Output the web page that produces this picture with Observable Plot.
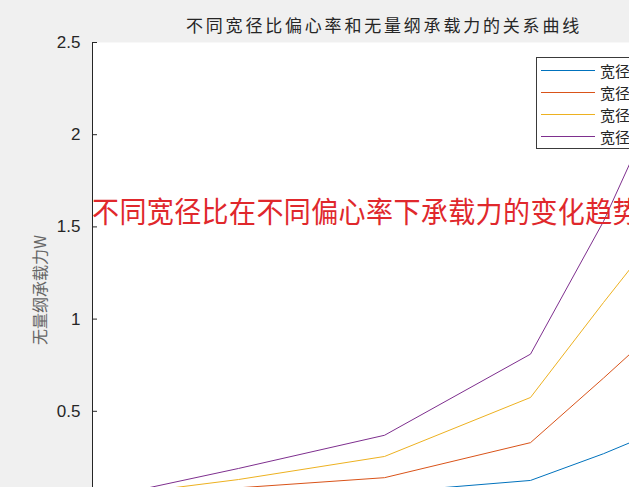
<!DOCTYPE html>
<html><head><meta charset="utf-8">
<script src="https://cdn.jsdelivr.net/npm/d3@7"></script>
<script src="https://cdn.jsdelivr.net/npm/@observablehq/plot@0.6"></script>
<style>
html,body{margin:0;padding:0;background:#f0f0f0;width:629px;height:487px;overflow:hidden;}
#wrap{position:relative;width:629px;height:487px;overflow:hidden;}
#chart{position:absolute;left:0;top:0;width:740px;height:553px;}
#chart svg{max-width:none !important;}
#title{position:absolute;left:186px;top:13px;font-family:"Noto Sans CJK SC",sans-serif;font-size:17px;letter-spacing:2.8px;color:#262626;white-space:nowrap;line-height:24px;}
#ylabel{position:absolute;left:39px;top:290px;transform:translate(-50%,-50%) rotate(-90deg);font-family:"Noto Sans CJK SC",sans-serif;font-size:16px;color:#666;white-space:nowrap;}
#legend{position:absolute;left:536px;top:57px;width:140px;height:90px;background:#fff;border:1px solid #3a3a3a;}
.lg-row{position:absolute;left:4px;height:22px;display:flex;align-items:center;white-space:nowrap;font-family:"Noto Sans CJK SC",sans-serif;font-size:15px;color:#262626;}
.lg-line{display:inline-block;width:54px;height:0;border-top:1px solid;margin-right:5px;}
#note{position:absolute;left:92px;top:191px;font-family:"Noto Sans CJK SC",sans-serif;font-size:27px;letter-spacing:0.4px;color:#e0282c;white-space:nowrap;line-height:40px;transform-origin:0 50%;transform:scaleY(1.08);}
</style></head><body><div id="wrap">
<div id="chart"></div>
<div id="title"></div>
<div id="ylabel"></div>
<div id="legend"></div>
<div id="note"></div>
</div>
<script>
// ---- data ----
const eccentricity = [0.1, 0.3, 0.5, 0.7, 0.8, 0.9];
const seriesNames = ["宽径比=0.5", "宽径比=0.75", "宽径比=1.0", "宽径比=1.25"];
const seriesColors = ["#0072BD", "#D95319", "#EDB120", "#7E2F8E"];
const loadBW05  = [0.01, 0.02, 0.06, 0.125, 0.27, 0.435];
const loadBW075 = [0.02, 0.085, 0.14, 0.33, 0.68, 1.04];
const loadBW10  = [0.03, 0.13, 0.255, 0.575, 1.09, 1.59];
const loadBW125 = [0.02, 0.19, 0.37, 0.81, 1.53, 2.4];
const yTicks = [0.5, 1, 1.5, 2, 2.5];
const yTickLabels = ["0.5", "1", "1.5", "2", "2.5"];
const titleText = "不同宽径比偏心率和无量纲承载力的关系曲线";
const yLabelText = "无量纲承载力W";
const noteText = "不同宽径比在不同偏心率下承载力的变化趋势";

const allSeries = [loadBW05, loadBW075, loadBW10, loadBW125];
const rows = [];
allSeries.forEach((vals, i) => vals.forEach((v, j) => rows.push({e: eccentricity[j], w: v, s: seriesNames[i]})));

const font = '"Liberation Sans", Arial, sans-serif';
const chart = Plot.plot({
  width: 740, height: 553,
  marginLeft: 92, marginTop: 42, marginRight: 64, marginBottom: 50,
  style: {background: "transparent", fontFamily: font, fontSize: "17px", color: "#262626", overflow: "visible", maxWidth: "none"},
  x: {domain: [0.1, 0.9], axis: null},
  y: {domain: [0, 2.5]},
  color: {domain: seriesNames, range: seriesColors},
  marks: [
    Plot.frame({fill: "white", stroke: null}),
    Plot.ruleX([eccentricity[0]], {stroke: "#262626", strokeWidth: 1}),
    Plot.axisY({ticks: yTicks, tickFormat: d => yTickLabels[yTicks.indexOf(d)], tickSize: -5, tickPadding: 17, fontSize: 17, stroke: "#262626", fill: "#262626", label: null}),
    Plot.line(rows, {x: "e", y: "w", stroke: "s", z: "s", strokeWidth: 1})
  ]
});
chart.style.maxWidth = "none";
chart.style.width = "740px";
chart.style.height = "553px";
document.getElementById("chart").appendChild(chart);
document.getElementById("title").textContent = titleText;
document.getElementById("ylabel").textContent = yLabelText;
document.getElementById("note").textContent = noteText;
const lg = document.getElementById("legend");
seriesNames.forEach((n, i) => {
  const r = document.createElement("div");
  r.className = "lg-row";
  r.style.top = (1 + i * 22) + "px";
  const l = document.createElement("span");
  l.className = "lg-line";
  l.style.borderColor = seriesColors[i];
  const t = document.createElement("span");
  t.textContent = n;
  r.appendChild(l); r.appendChild(t);
  lg.appendChild(r);
});
</script>
</body></html>
